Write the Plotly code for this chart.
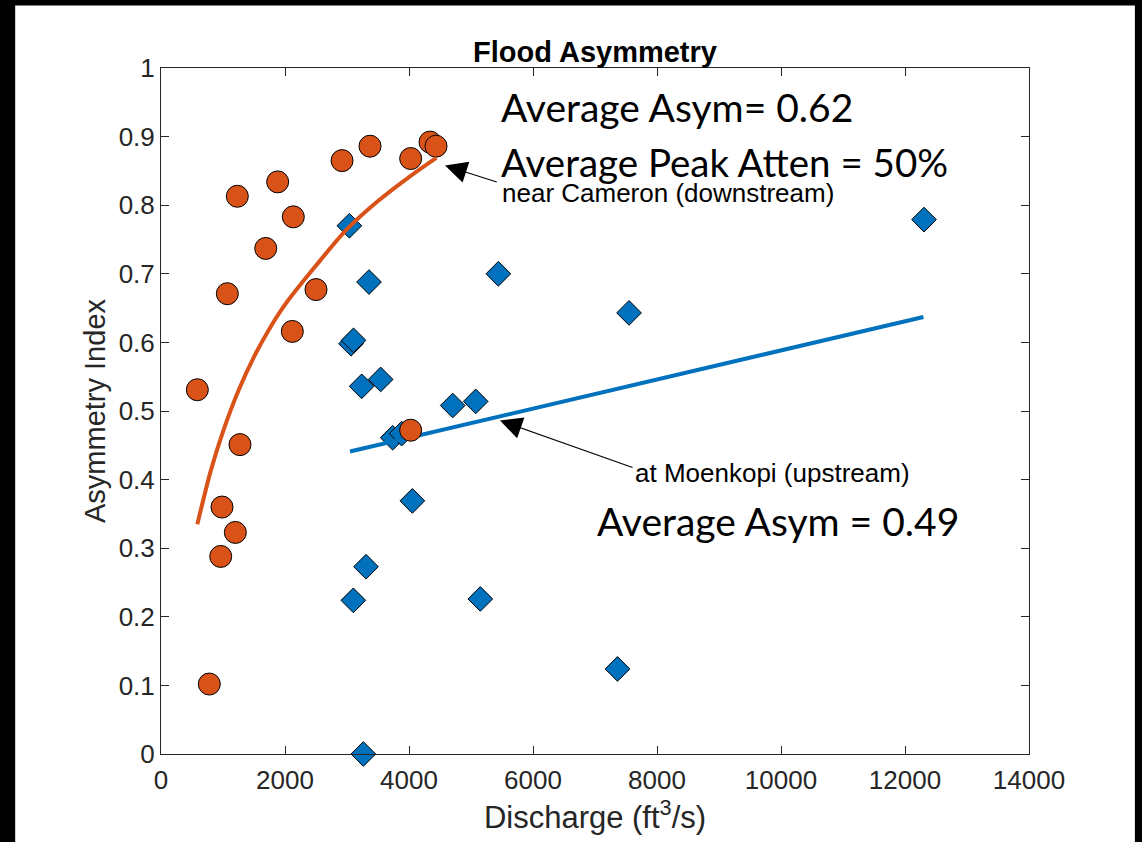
import plotly.graph_objects as go

# Flood events near Cameron (downstream gauge)
cameron_q = [586, 779, 963, 984, 1070, 1199, 1231, 1274, 1689, 1882, 2118, 2134,
             2500, 2920, 3371, 4027, 4027, 4339, 4436]
cameron_asym = [0.531, 0.102, 0.288, 0.360, 0.671, 0.323, 0.813, 0.451, 0.737, 0.834,
                0.616, 0.783, 0.677, 0.865, 0.886, 0.868, 0.472, 0.892, 0.886]

# Flood events at Moenkopi (upstream gauge)
moenkopi_q = [3038, 3355, 5441, 3065, 3105, 7549, 3237, 3543, 4705, 5076, 3737, 3882,
              4054, 3307, 3102, 5150, 3263, 7363, 12307]
moenkopi_asym = [0.770, 0.688, 0.700, 0.598, 0.603, 0.643, 0.536, 0.546, 0.508, 0.514,
                 0.461, 0.467, 0.369, 0.273, 0.224, 0.226, 0.000, 0.124, 0.779]

# Trend curves
cameron_fit_q = [586, 800, 1000, 1250, 1500, 1750, 2000, 2500, 3000, 3500, 4000, 4440]
cameron_fit_asym = [0.335, 0.412, 0.470, 0.530, 0.579, 0.620, 0.655, 0.712, 0.765, 0.806,
                    0.841, 0.869]
moenkopi_fit_q = [3049, 12297]
moenkopi_fit_asym = [0.441, 0.637]

x_ticks = [0, 2000, 4000, 6000, 8000, 10000, 12000, 14000]
y_ticks = [0, 0.1, 0.2, 0.3, 0.4, 0.5, 0.6, 0.7, 0.8, 0.9, 1]

ORANGE = "#D95319"
BLUE = "#0072BD"
AXIS = "#262626"
FONT = "Liberation Sans, Arial, sans-serif"
CAL = "Lato, Carlito, Calibri, sans-serif"

fig = go.Figure()
fig.add_trace(go.Scatter(
    x=moenkopi_q, y=moenkopi_asym, mode="markers", cliponaxis=False,
    marker=dict(symbol="diamond", size=19, color=BLUE, line=dict(color="black", width=1))))
fig.add_trace(go.Scatter(
    x=moenkopi_fit_q, y=moenkopi_fit_asym, mode="lines",
    line=dict(color=BLUE, width=4)))
fig.add_trace(go.Scatter(
    x=cameron_q, y=cameron_asym, mode="markers", cliponaxis=False,
    marker=dict(symbol="circle", size=22, color=ORANGE, line=dict(color="black", width=1))))
fig.add_trace(go.Scatter(
    x=cameron_fit_q, y=cameron_fit_asym, mode="lines",
    line=dict(color=ORANGE, width=4, shape="spline", smoothing=0.8)))

axis_common = dict(
    showgrid=False, zeroline=False, showline=True, linecolor=AXIS, linewidth=1,
    mirror="ticks", ticks="inside", ticklen=8, tickcolor=AXIS,
    tickfont=dict(family=FONT, size=26, color=AXIS),
)

fig.update_xaxes(range=[0, 14000], tickvals=x_ticks, ticktext=[str(v) for v in x_ticks],
                 ticklabelstandoff=3,
                 title=dict(text="Discharge (ft<sup>3</sup>/s)", font=dict(family=FONT, size=31, color=AXIS),
                            standoff=8),
                 **axis_common)
fig.update_yaxes(range=[0, 1], tickvals=y_ticks, ticktext=["0"] + [f"{v:g}" for v in y_ticks[1:]],
                 title=dict(text="Asymmetry Index", font=dict(family=FONT, size=29, color=AXIS),
                            standoff=4),
                 **axis_common)

annotations = [
    dict(text="Average Asym= 0.62", x=0.3895, y=0.943, xanchor="left", yanchor="middle",
         font=dict(family=CAL, size=39, color="black")),
    dict(text="Average Peak Atten = 50%", x=0.3895, y=0.863, xanchor="left", yanchor="middle",
         font=dict(family=CAL, size=38.5, color="black")),
    dict(text="near Cameron (downstream)", x=0.390, y=0.818, xanchor="left", yanchor="middle",
         font=dict(family=FONT, size=26, color="black")),
    dict(text="at Moenkopi (upstream)", x=0.5435, y=0.409, xanchor="left", yanchor="middle",
         font=dict(family=FONT, size=26, color="black")),
    dict(text="Average Asym = 0.49", x=0.4995, y=0.340, xanchor="left", yanchor="middle",
         font=dict(family=CAL, size=39, color="black")),
]
for a in annotations:
    a.update(xref="paper", yref="paper", showarrow=False)

# pointer arrows
annotations += [
    dict(x=4581, y=0.858, ax=5440, ay=0.833, xref="x", yref="y", axref="x", ayref="y",
         text="", showarrow=True, arrowhead=2, arrowsize=4, arrowwidth=1.1, arrowcolor="black"),
    dict(x=5468, y=0.486, ax=7630, ay=0.417, xref="x", yref="y", axref="x", ayref="y",
         text="", showarrow=True, arrowhead=2, arrowsize=4, arrowwidth=1.1, arrowcolor="black"),
]

fig.update_layout(
    width=1142, height=842,
    margin=dict(l=161, r=113, t=68, b=88),
    paper_bgcolor="black", plot_bgcolor="white",
    showlegend=False,
    title=dict(text="<b>Flood Asymmetry</b>", x=0.5, xref="paper", y=1 - 52 / 842,
               yanchor="middle", xanchor="center",
               font=dict(family=FONT, size=29, color="black")),
    annotations=annotations,
    shapes=[dict(type="rect", xref="paper", yref="paper", x0=-0.168, x1=1.122,
                 y0=-0.13, y1=1.091, fillcolor="white", line=dict(width=0), layer="below")],
)

fig.write_html("out.html")
